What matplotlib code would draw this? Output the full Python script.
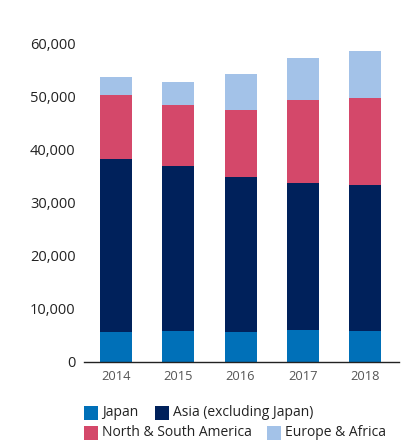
import matplotlib
matplotlib.use("Agg")
import matplotlib.pyplot as plt
from matplotlib.patches import Rectangle
from matplotlib.ticker import FuncFormatter
import numpy as np

years = ["2014", "2015", "2016", "2017", "2018"]
japan = [5600, 5800, 5600, 6000, 5800]
asia = [32600, 31100, 29200, 27700, 27500]
americas = [12050, 11500, 12600, 15600, 16400]
europe = [3350, 4300, 6800, 7900, 8800]

series_labels = ["Japan", "Asia (excluding Japan)", "North & South America", "Europe & Africa"]
colors = ["#0070b8", "#00215b", "#d4486a", "#a3c2e8"]

plt.rcParams['font.family'] = ['Open Sans', 'DejaVu Sans']

W, H = 413, 443
fig = plt.figure(figsize=(W / 100, H / 100), dpi=100)
ax = fig.add_axes([84 / W, 1 - 361.7 / H, (399 - 84) / W, (361.7 - 43.3) / H])

x = np.arange(len(years))
bottom = np.zeros(len(years))
for vals, c, lab in zip([japan, asia, americas, europe], colors, series_labels):
    ax.bar(x, vals, width=0.514, bottom=bottom, color=c, label=lab, linewidth=0)
    bottom += np.array(vals)

ax.set_xlim(-0.514, 4.546)
ax.set_ylim(0, 60000)
ax.set_yticks(range(0, 60001, 10000))
ax.yaxis.set_major_formatter(FuncFormatter(lambda v, p: f"{int(v):,}"))
ax.set_xticks(x)
ax.set_xticklabels(years)
for s in ["top", "right", "left"]:
    ax.spines[s].set_visible(False)
ax.spines["bottom"].set_color("#222222")
ax.spines["bottom"].set_linewidth(1.0)
ax.tick_params(axis="y", length=0, pad=6, labelsize=10.5, labelcolor="#222222")
ax.tick_params(axis="x", length=0, pad=6, labelsize=9.3, labelcolor="#555555")

# Legend (manual flow layout)
legend_items = [
    (84, 406, 0), (155, 406, 1),
    (84, 426, 2), (267, 426, 3),
]
for px, py, i in legend_items:
    fig.add_artist(Rectangle((px / W, 1 - (py + 14) / H), 14 / W, 14 / H,
                             transform=fig.transFigure, color=colors[i], linewidth=0))
    fig.text((px + 18) / W, 1 - (py + 7) / H, series_labels[i], fontsize=10,
             color="#222222", va="center", ha="left")

fig.savefig("out.png", dpi=100)
